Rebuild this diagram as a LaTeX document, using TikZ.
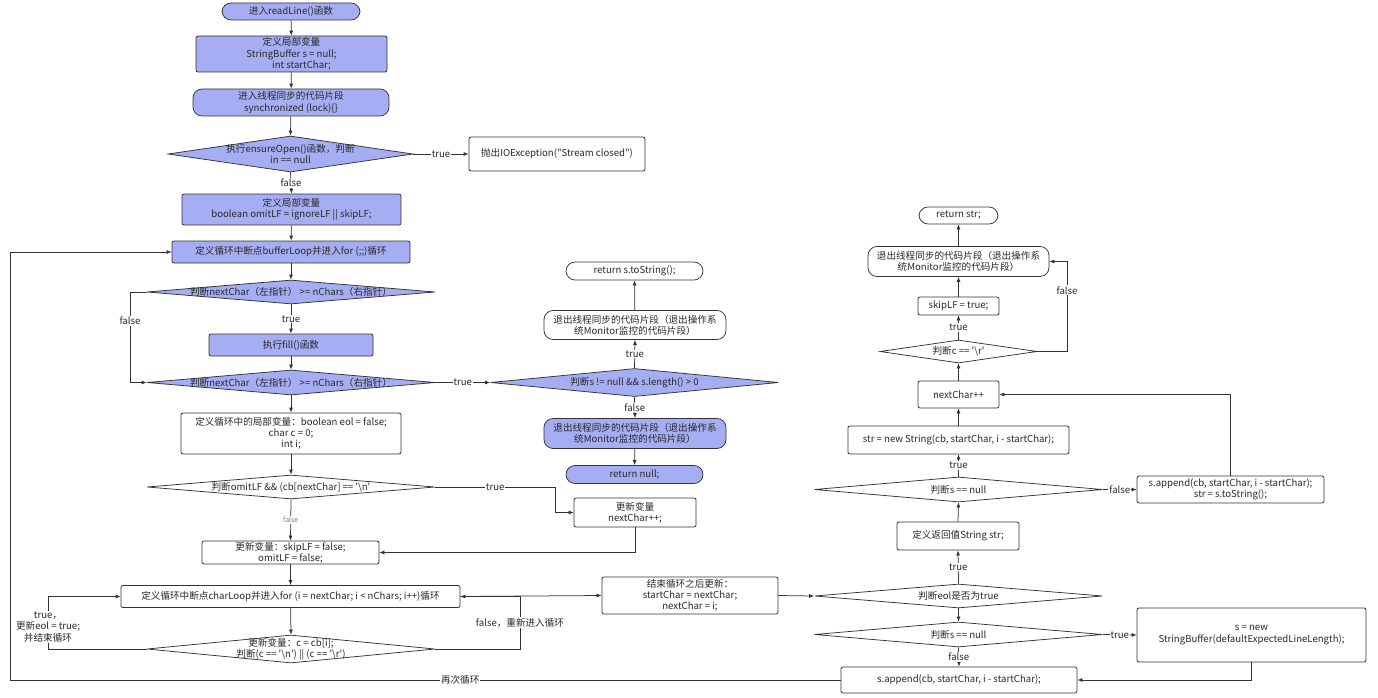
\documentclass[tikz,border=0pt]{standalone}
\usepackage{fontspec}
\setmainfont{Noto Sans CJK SC}
\usetikzlibrary{shapes.geometric,arrows.meta}
\definecolor{bl}{RGB}{165,173,243}
\definecolor{lc}{RGB}{51,51,51}
\definecolor{tc}{RGB}{40,40,40}
\newcommand{\sq}{\textquotesingle}
\newcommand{\bsl}{\textbackslash}
\newcommand{\fs}{\fontsize{9.6}{11.2}\selectfont}
\begin{document}
\begin{tikzpicture}[x=1pt,y=-1pt,
  base/.style={draw=lc, line width=0.75pt, font=\fs, align=center, inner sep=0pt, text=tc},
  bbox/.style={base, fill=bl, rounded corners=2pt},
  wbox/.style={base, fill=white, rounded corners=2pt},
  bpill/.style={base, fill=bl, rounded corners=9pt},
  wpill/.style={base, fill=white, rounded corners=9pt},
  bdia/.style={diamond, draw=lc, fill=bl, line width=0.75pt, inner sep=0pt},
  wdia/.style={diamond, draw=lc, fill=white, line width=0.75pt, inner sep=0pt},
  txt/.style={font=\fs, align=center, text=tc, inner sep=0pt},
  lab/.style={font=\fs, fill=white, inner sep=1pt, text=tc, align=center},
  arr/.style={draw=lc, line width=0.75pt, -{Latex[length=5pt,width=4pt]}},
  ln/.style={draw=lc, line width=0.75pt}]
\path[use as bounding box, fill=white] (0,0) rectangle (1378,698);

% left column
\node[bpill, minimum width=138pt, minimum height=17pt] (start) at (291,11.5) {进入readLine()函数};
\node[bbox, minimum width=191pt, minimum height=36pt] (def1) at (291.5,54) {定义局部变量\\StringBuffer s = null;\\\hspace*{20pt}int startChar;};
\node[bpill, minimum width=196pt, minimum height=27pt] (sync) at (291,102.5) {进入线程同步的代码片段\\synchronized (lock)\{\}};
\node[bdia, minimum width=245pt, minimum height=36pt] (d1) at (290.5,154) {};
\node[txt] (d1t) at (d1) {执行ensureOpen()函数，判断\\in == null};
\node[wbox, minimum width=176pt, minimum height=34pt] (exc) at (557,154) {抛出IOException(\textquotedbl Stream closed\textquotedbl)};
\node[bbox, minimum width=219pt, minimum height=31pt] (def2) at (291.5,209.5) {定义局部变量\\boolean omitLF = ignoreLF || skipLF;};
\node[bbox, minimum width=238pt, minimum height=22pt] (bloop) at (291,252) {定义循环中断点bufferLoop并进入for (;;)循环};
\node[bdia, minimum width=288pt, minimum height=24pt] (d2) at (291,292) {};
\node[txt] (d2t) at (d2) {判断nextChar（左指针） >= nChars（右指针）};
\node[bbox, minimum width=164pt, minimum height=22pt] (fill) at (291,345) {执行fill()函数};
\node[bdia, minimum width=288pt, minimum height=25pt] (d3) at (291,382.5) {};
\node[txt] (d3t) at (d3) {判断nextChar（左指针） >= nChars（右指针）};
\node[wbox, minimum width=220pt, minimum height=41pt] (vars) at (291,433.5) {定义循环中的局部变量：boolean eol = false;\\char c = 0;\\int i;};
\node[wdia, minimum width=288pt, minimum height=24pt] (d5) at (291,487) {};
\node[txt] (d5t) at (d5) {判断omitLF \&\& (cb[nextChar] == \sq\bsl n\sq};
\node[wbox, minimum width=122pt, minimum height=29pt] (upd) at (635,512.5) {更新变量\\nextChar++;};
\node[wbox, minimum width=177pt, minimum height=23pt] (skip) at (290.5,552.5) {更新变量：skipLF = false;\\omitLF = false;};
\node[wbox, minimum width=339pt, minimum height=22pt] (cloop) at (290.5,596.5) {定义循环中断点charLoop并进入for (i = nextChar; i < nChars; i++)循环};
\node[wdia, minimum width=288pt, minimum height=28pt] (d6) at (291,649) {};
\node[txt] (d6t) at (d6) {更新变量：c = cb[i];\\判断(c == \sq\bsl n\sq) || (c == \sq\bsl r\sq)};

% middle column
\node[wpill, minimum width=137pt, minimum height=18pt] (retS) at (634.5,271) {return s.toString();};
\node[wpill, minimum width=182pt, minimum height=29pt] (exit1) at (635,325) {退出线程同步的代码片段（退出操作系\\统Monitor监控的代码片段）};
\node[bdia, minimum width=288pt, minimum height=28pt] (d4) at (634.5,382.5) {};
\node[txt] (d4t) at (d4) {判断s != null \&\& s.length() > 0};
\node[bpill, minimum width=182pt, minimum height=30pt] (exit3) at (635,433.5) {退出线程同步的代码片段（退出操作系\\统Monitor监控的代码片段）};
\node[bpill, minimum width=137pt, minimum height=18pt] (retN) at (634.5,474.5) {return null;};
\node[wbox, minimum width=176pt, minimum height=37pt] (lend) at (690,595.5) {结束循环之后更新：\\startChar = nextChar;\\nextChar = i;};

% right column
\node[wpill, minimum width=79pt, minimum height=17pt] (retStr) at (958.5,215.5) {return str;};
\node[wpill, minimum width=181pt, minimum height=30pt] (exit2) at (958.5,261.5) {退出线程同步的代码片段（退出操作系\\统Monitor监控的代码片段）};
\node[wbox, minimum width=81pt, minimum height=18pt] (skipT) at (958.5,306) {skipLF = true;};
\node[wdia, minimum width=157pt, minimum height=23pt] (dcr) at (958.5,351.5) {};
\node[txt] (dcrt) at (dcr) {判断c == \sq\bsl r\sq};
\node[wbox, minimum width=81pt, minimum height=27pt] (ncpp) at (958.5,394.5) {nextChar++};
\node[wbox, minimum width=221pt, minimum height=28pt] (nstr) at (958.5,440) {str = new String(cb, startChar, i - startChar);};
\node[wdia, minimum width=288pt, minimum height=25pt] (dsn1) at (958.5,489.5) {};
\node[txt] (dsn1t) at (dsn1) {判断s == null};
\node[wbox, minimum width=187pt, minimum height=27pt] (sapp2) at (1230.5,489.5) {s.append(cb, startChar, i - startChar);\\str = s.toString();};
\node[wbox, minimum width=122pt, minimum height=28pt] (sdef) at (958,536) {定义返回值String str;};
\node[wdia, minimum width=288pt, minimum height=24pt] (deol) at (958.5,596) {};
\node[txt] (deolt) at (deol) {判断eol是否为true};
\node[wdia, minimum width=288pt, minimum height=25pt] (dsn2) at (958.5,634.5) {};
\node[txt] (dsn2t) at (dsn2) {判断s == null};
\node[wbox, minimum width=229pt, minimum height=54pt] (sbuf) at (1251.5,635) {s = new\\StringBuffer(defaultExpectedLineLength);};
\node[wbox, minimum width=236pt, minimum height=26pt] (sapp) at (959,680) {s.append(cb, startChar, i - startChar);};

\coordinate (c1) at (130,292);
\coordinate (c2) at (130,382.5);
\coordinate (c3) at (555,487);
\coordinate (c4) at (555,512.5);
\coordinate (c5) at (635,552.5);
\coordinate (c6) at (48,649);
\coordinate (c7) at (48,596.5);
\coordinate (c8) at (520,649);
\coordinate (c9) at (520,596.5);
\coordinate (c10) at (1251.5,680);
\coordinate (c11) at (10,680);
\coordinate (c12) at (10,252);
\coordinate (c13) at (1230.5,394.5);
\coordinate (c14) at (1067,351.5);
\coordinate (c15) at (1067,261.5);

% edges left column
\draw[arr] (start) -- (def1);
\draw[arr] (def1) -- (sync);
\draw[arr] (sync) -- (d1.north);
\draw[arr] (d1.east) -- node[lab] (l1) {true} (exc.west);
\draw[arr] (d1.south) -- node[lab] (l2) {false} (def2.north);
\draw[arr] (def2) -- (bloop);
\draw[arr] (bloop) -- (d2.north);
\draw[arr] (d2.south) -- node[lab] (l3) {true} (fill.north);
\draw[arr] (d2.west) -- (c1) -- node[lab, pos=0.32] (l4) {false} (c2) -- (d3.west);
\draw[arr] (fill) -- (d3.north);
\draw[arr] (d3.east) -- node[lab] (l5) {true} (d4.west);
\draw[arr] (d3.south) -- (vars.north);
\draw[arr] (vars.south) -- (d5.north);
\draw[arr] (d5.east) -- node[lab, pos=0.5] (l6) {true} (c3) -- (c4) -- (upd.west);
\draw[arr] (d5.south) -- node[lab, font=\fontsize{7}{8}\selectfont, text=gray] (l7) {false} (skip.north);
\draw[arr] (upd.south) -- (c5) -- (skip.east);
\draw[arr] (skip) -- (cloop);
\draw[arr] (cloop) -- (d6.north);
\draw[arr] (d6.west) -- (c6) -- node[lab, pos=0.42] (l8) {true，\\更新eol = true;\\并结束循环} (c7) -- (cloop.west);
\draw[arr] (d6.east) -- (c8) -- node[lab, pos=0.5] (l9) {false，重新进入循环} (c9) -- (cloop.east);
\draw[arr] (cloop.east) -- (lend.west);

% middle
\draw[arr] (d4.north) -- node[lab] (l10) {true} (exit1.south);
\draw[arr] (exit1) -- (retS);
\draw[arr] (d4.south) -- node[lab] (l11) {false} (exit3.north);
\draw[arr] (exit3) -- (retN);
\draw[arr] (lend.east) -- (deol.west);

% right
\draw[arr] (deol.north) -- node[lab] (l12) {true} (sdef.south);
\draw[arr] (deol.south) -- (dsn2.north);
\draw[arr] (dsn2.east) -- node[lab] (l13) {true} (sbuf.west);
\draw[arr] (dsn2.south) -- node[lab] (l14) {false} (sapp.north);
\draw[arr] (sbuf.south) -- (c10) -- (sapp.east);
\draw[arr] (sapp.west) -- node[lab, pos=0.458] (l15) {再次循环} (c11) -- (c12) -- (bloop.west);
\draw[arr] (sdef.north) -- (dsn1.south);
\draw[arr] (dsn1.north) -- node[lab] (l16) {true} (nstr.south);
\draw[arr] (dsn1.east) -- node[lab] (l17) {false} (sapp2.west);
\draw[arr] (sapp2.north) -- (c13) -- (ncpp.east);
\draw[arr] (nstr.north) -- (ncpp.south);
\draw[arr] (ncpp.north) -- (dcr.south);
\draw[arr] (dcr.north) -- node[lab] (l18) {true} (skipT.south);
\draw[arr] (dcr.east) -- (c14) -- node[lab, pos=0.68] (l19) {false} (c15) -- (exit2.east);
\draw[arr] (skipT) -- (exit2);
\draw[arr] (exit2) -- (retStr);
\end{tikzpicture}
\end{document}
